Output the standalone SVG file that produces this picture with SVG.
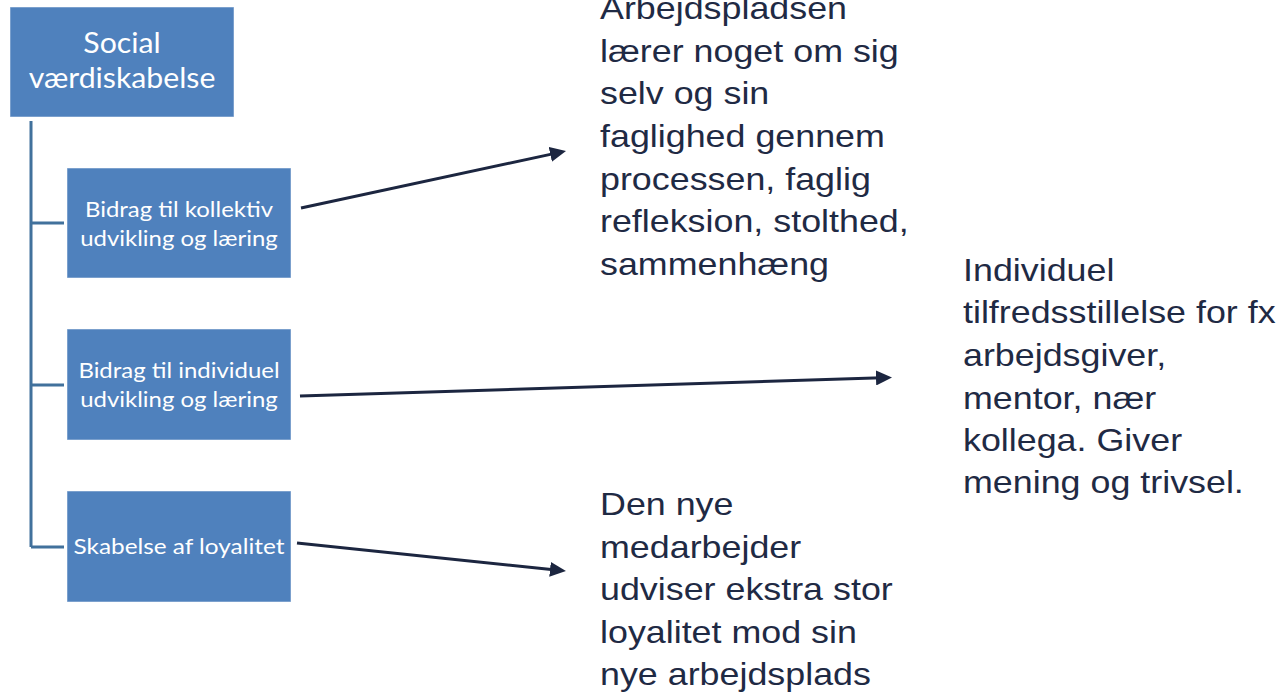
<svg xmlns="http://www.w3.org/2000/svg" width="1280" height="693" viewBox="0 0 1280 693">
  <defs>
    <style>
      .box { fill: #4f81bd; stroke: #ffffff; stroke-opacity: 0.5; stroke-width: 1; }
      .boxtxt { fill: #ffffff; font-family: Lato, "Liberation Sans", sans-serif; text-anchor: middle; }
      .tree { stroke: #41719c; stroke-width: 3; fill: none; }
      .arrow { stroke: #1c2640; stroke-width: 3; fill: none; marker-end: url(#head); }
      .note { fill: #1f2a44; font-family: "Liberation Sans", Arial, sans-serif; font-size: 32px; }
    </style>
    <marker id="head" markerUnits="userSpaceOnUse" markerWidth="16" markerHeight="15" refX="6" refY="7.5" orient="auto">
      <path d="M0,0 L16,7.5 L0,15 Z" fill="#1c2640"/>
    </marker>
  </defs>
  <rect width="1280" height="693" fill="#ffffff"/>

  <g id="connectors">
    <path class="tree" d="M31,121 V547 M31,223 H64 M31,385 H64 M31,547 H64"/>
    <line class="arrow" x1="301" y1="208" x2="556.2" y2="153.1"/>
    <line class="arrow" x1="300" y1="396" x2="882" y2="377.8"/>
    <line class="arrow" x1="297" y1="543" x2="556" y2="570"/>
  </g>

  <g id="root">
    <rect class="box" x="10" y="7" width="224" height="110"/>
    <g transform="translate(122,0) scale(1.08,1) translate(-122,0)">
      <text class="boxtxt" font-size="28" x="122" y="53">Social</text>
      <text class="boxtxt" font-size="28" x="122" y="88">værdiskabelse</text>
    </g>
  </g>

  <g id="child1">
    <rect class="box" x="67" y="168" width="224" height="110"/>
    <g transform="translate(179,0) scale(1.14,1) translate(-179,0)">
      <text class="boxtxt" font-size="21" x="179" y="217">Bidrag til kollektiv</text>
      <text class="boxtxt" font-size="21" x="179" y="246">udvikling og læring</text>
    </g>
  </g>

  <g id="child2">
    <rect class="box" x="67" y="329" width="224" height="111"/>
    <g transform="translate(179,0) scale(1.14,1) translate(-179,0)">
      <text class="boxtxt" font-size="21" x="179" y="378">Bidrag til individuel</text>
      <text class="boxtxt" font-size="21" x="179" y="407">udvikling og læring</text>
    </g>
  </g>

  <g id="child3">
    <rect class="box" x="67" y="491" width="224" height="111"/>
    <g transform="translate(179,0) scale(1.16,1) translate(-179,0)">
      <text class="boxtxt" font-size="21" x="179" y="554">Skabelse af loyalitet</text>
    </g>
  </g>

  <g id="note1" transform="translate(600,0) scale(1.12,1) translate(-600,0)">
    <text class="note" x="600" y="19">Arbejdspladsen</text>
    <text class="note" x="600" y="62">lærer noget om sig</text>
    <text class="note" x="600" y="104">selv og sin</text>
    <text class="note" x="600" y="147">faglighed gennem</text>
    <text class="note" x="600" y="190">processen, faglig</text>
    <text class="note" x="600" y="232">refleksion, stolthed,</text>
    <text class="note" x="600" y="275">sammenhæng</text>
  </g>

  <g id="note2" transform="translate(963,0) scale(1.12,1) translate(-963,0)">
    <text class="note" x="963" y="281">Individuel</text>
    <text class="note" x="963" y="323.5">tilfredsstillelse for fx</text>
    <text class="note" x="963" y="366">arbejdsgiver,</text>
    <text class="note" x="963" y="408.5">mentor, nær</text>
    <text class="note" x="963" y="451">kollega. Giver</text>
    <text class="note" x="963" y="493.5">mening og trivsel.</text>
  </g>

  <g id="note3" transform="translate(600,0) scale(1.12,1) translate(-600,0)">
    <text class="note" x="600" y="515.5">Den nye</text>
    <text class="note" x="600" y="558">medarbejder</text>
    <text class="note" x="600" y="600.5">udviser ekstra stor</text>
    <text class="note" x="600" y="643">loyalitet mod sin</text>
    <text class="note" x="600" y="685.5">nye arbejdsplads</text>
  </g>
</svg>
